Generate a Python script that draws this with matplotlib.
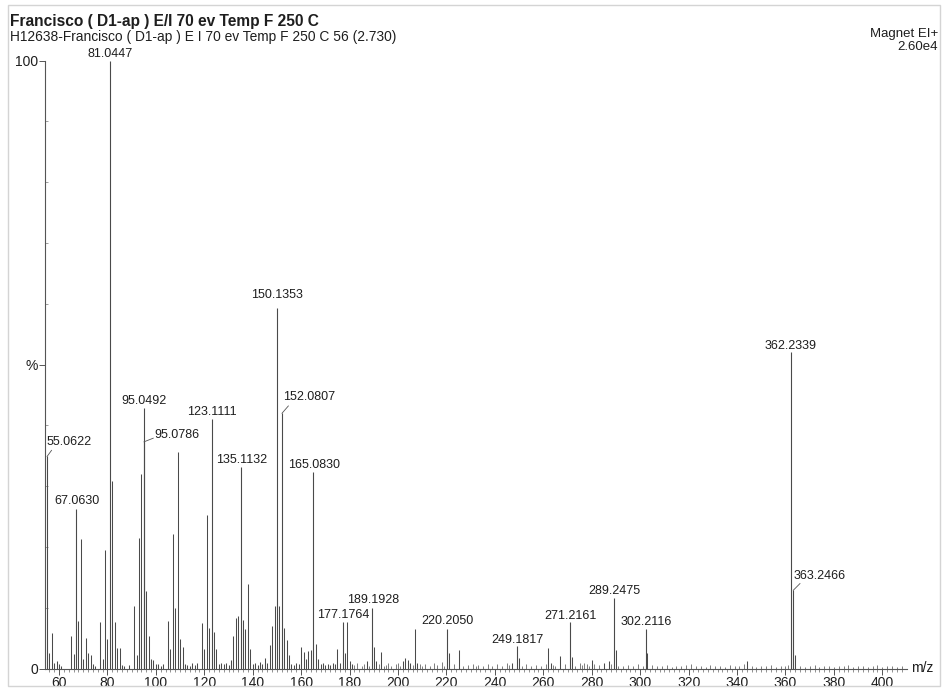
import matplotlib
matplotlib.use("Agg")
import matplotlib.pyplot as plt
from matplotlib.ticker import FixedLocator
from matplotlib.patches import Rectangle

plt.rcParams['font.family'] = ['Liberation Sans', 'DejaVu Sans']

# ---------------- data ----------------
# labelled peaks (m/z, relative intensity %)
label_mz = [55.0622, 67.0630, 81.0447, 95.0492, 95.0786, 123.1111, 135.1132,
            150.1353, 152.0807, 165.0830, 177.1764, 189.1928, 220.2050,
            249.1817, 271.2161, 289.2475, 302.2116, 362.2339, 363.2466]
label_int = [34.9, 26.3, 100.0, 42.9, 37.3, 41.1, 33.2,
             59.3, 42.0, 32.4, 7.6, 10.0, 6.6,
             3.7, 7.6, 11.6, 6.5, 52.1, 12.9]
label_text = ["55.0622", "67.0630", "81.0447", "95.0492", "95.0786", "123.1111",
              "135.1132", "150.1353", "152.0807", "165.0830", "177.1764",
              "189.1928", "220.2050", "249.1817", "271.2161", "289.2475",
              "302.2116", "362.2339", "363.2466"]

# other visible peaks
minor_mz = [56, 57, 58, 59, 60, 61, 65, 66, 68, 69,
            70, 71, 72, 73, 74, 75, 77, 78, 79, 80,
            82, 83, 84, 85, 86, 87, 89, 91, 92, 93,
            94, 96, 97, 98, 99, 100, 101, 102, 103, 105,
            106, 107, 108, 109, 110, 111, 112, 113, 114, 115,
            116, 117, 119, 120, 121, 122, 124, 125, 126, 127,
            128, 129, 130, 131, 132, 133, 134, 136, 137, 138,
            139, 140, 141, 142, 143, 144, 145, 146, 147, 148,
            149, 151, 153, 154, 155, 156, 157, 158, 159, 160,
            161, 162, 163, 164, 166, 167, 168, 169, 170, 171,
            172, 173, 174, 175, 176, 178, 179, 180, 181, 187,
            190, 191, 193, 202, 203, 204, 205, 207, 208, 221,
            225, 247, 250, 262, 263, 267, 272, 280, 285, 287,
            290, 303, 344, 364]
minor_int = [2.5, 5.8, 1.0, 1.2, 0.8, 0.5, 5.4, 2.4, 7.9, 21.3,
             1.6, 5.1, 2.5, 2.2, 0.8, 0.5, 7.6, 1.6, 19.5, 4.9,
             30.9, 7.7, 3.4, 3.4, 0.6, 0.5, 0.6, 10.3, 2.3, 21.5,
             32.0, 12.7, 5.4, 1.6, 1.5, 0.8, 0.7, 0.5, 0.8, 7.9,
             3.3, 22.2, 9.9, 35.7, 4.9, 3.6, 0.8, 0.6, 0.5, 1.0,
             0.6, 1.0, 7.5, 3.3, 25.3, 6.7, 6.0, 3.3, 0.8, 1.0,
             0.7, 1.0, 0.6, 1.5, 5.3, 8.4, 8.6, 8.0, 6.5, 14.0,
             3.3, 0.8, 1.0, 0.6, 1.1, 0.7, 1.8, 1.0, 3.9, 7.0,
             10.3, 10.3, 6.7, 4.8, 2.2, 0.8, 0.6, 1.0, 0.7, 3.6,
             2.8, 1.6, 2.9, 3.1, 4.1, 1.6, 0.7, 0.9, 0.6, 0.8,
             0.6, 1.0, 0.7, 3.2, 0.9, 2.6, 7.6, 1.2, 0.8, 1.3,
             3.5, 1.2, 2.8, 1.3, 1.8, 1.4, 1.0, 6.5, 1.0, 2.5,
             3.1, 1.0, 1.7, 3.4, 1.0, 2.1, 2.0, 1.5, 1.0, 1.2,
             3.1, 2.5, 1.3, 2.3]

# baseline noise peaks
noise_mz = [182, 183, 185, 186, 188, 192, 194, 195, 196, 197,
            199, 200, 201, 206, 209, 210, 211, 213, 215, 216,
            218, 219, 223, 227, 229, 231, 232, 233, 235, 237,
            239, 241, 243, 245, 246, 251, 253, 255, 257, 259,
            261, 264, 265, 269, 273, 275, 276, 277, 278, 279,
            281, 283, 288, 291, 293, 295, 297, 299, 301, 305,
            307, 309, 311, 313, 315, 317, 319, 321, 323, 325,
            327, 329, 331, 333, 335, 337, 339, 341, 343, 346,
            348, 350, 352, 354, 356, 358, 360, 361, 366, 368,
            370, 372, 374, 376, 378, 380, 382, 384, 386, 388,
            390, 392, 394, 396, 398, 400, 402, 404, 406, 408]
noise_int = [0.6, 0.9, 0.5, 0.7, 0.4, 0.8, 0.5, 0.6, 0.9, 0.4,
             0.7, 1.0, 0.5, 0.6, 0.8, 0.4, 0.7, 0.5, 0.9, 0.6,
             1.1, 0.5, 0.7, 0.4, 0.6, 0.8, 0.5, 0.6, 0.4, 0.7,
             0.5, 0.8, 0.4, 0.9, 0.6, 0.5, 0.7, 0.4, 0.6, 0.5,
             0.8, 0.6, 0.4, 0.7, 0.5, 0.9, 0.6, 1.0, 0.7, 0.5,
             0.8, 0.6, 0.7, 0.5, 0.4, 0.6, 0.5, 0.7, 0.4, 0.6,
             0.5, 0.4, 0.6, 0.3, 0.5, 0.4, 0.6, 0.8, 0.4, 0.5,
             0.3, 0.6, 0.4, 0.5, 0.3, 0.6, 0.4, 0.5, 0.7, 0.4,
             0.3, 0.5, 0.4, 0.6, 0.3, 0.5, 0.4, 0.6, 0.5, 0.3,
             0.4, 0.6, 0.3, 0.5, 0.4, 0.3, 0.5, 0.4, 0.6, 0.3,
             0.4, 0.5, 0.3, 0.4, 0.6, 0.3, 0.4, 0.5, 0.3, 0.4]

x_ticks = [60, 80, 100, 120, 140, 160, 180, 200, 220, 240, 260, 280,
           300, 320, 340, 360, 380, 400]
y_ticks = [0, 50, 100]
y_tick_labels = ["0", "%", "100"]

# label placement (styling): text x, text y (data units), horizontal align,
# leader end point (or None)
label_pos = [(54.9, 37.2, 'left', (56.9, 35.9)),
             (67.3, 27.5, 'center', None),
             (81.0, 101.1, 'center', None),
             (95.0, 44.0, 'center', None),
             (99.2, 38.4, 'left', (98.9, 37.9)),
             (123.05, 42.2, 'center', None),
             (135.3, 34.3, 'center', None),
             (150.1, 61.5, 'center', None),
             (152.4, 44.6, 'left', (154.7, 43.2)),
             (165.2, 33.5, 'center', None),
             (177.5, 8.9, 'center', None),
             (189.6, 11.3, 'center', None),
             (220.4, 7.8, 'center', None),
             (249.4, 4.8, 'center', None),
             (271.4, 8.7, 'center', None),
             (289.3, 12.7, 'center', None),
             (302.5, 7.7, 'center', None),
             (362.2, 53.0, 'center', None),
             (363.3, 15.3, 'left', (366.0, 14.0))]

# ---------------- figure ----------------
W, H = 943, 690
fig = plt.figure(figsize=(W / 100, H / 100), dpi=100)
fig.patch.set_facecolor('white')

ax_left, ax_right, ax_bot, ax_top = 45, 907, 668.7, 60.5
ax = fig.add_axes([ax_left / W, 1 - ax_bot / H, (ax_right - ax_left) / W,
                   (ax_bot - ax_top) / H])
ax.set_xlim(54.2, 410.2)
ax.set_ylim(0, 100)

line_col = '#4a4a4a'
text_col = '#1e1e1e'

ax.vlines(noise_mz, 0, noise_int, color='#666666', lw=0.6)
ax.vlines(minor_mz, 0, minor_int, color=line_col, lw=0.75)
ax.vlines(label_mz, 0, label_int, color=line_col, lw=0.8)

for mz, inten, txt, (tx, ty, ha, lead) in zip(label_mz, label_int, label_text, label_pos):
    ax.text(tx, ty, txt, ha=ha, va='center', fontsize=9, color=text_col,
            clip_on=False)
    if lead is not None:
        ax.plot([mz, lead[0]], [inten, lead[1]], color='#555555', lw=0.6,
                clip_on=False)

for s in ['top', 'right']:
    ax.spines[s].set_visible(False)
for s in ['left', 'bottom']:
    ax.spines[s].set_color('#555555')
    ax.spines[s].set_linewidth(0.8)

ax.set_xticks(x_ticks)
ax.set_xticklabels([str(v) for v in x_ticks])
ax.xaxis.set_minor_locator(FixedLocator([v for v in range(56, 410, 2)]))
ax.tick_params(axis='x', which='major', direction='out', length=4, width=0.7,
               color='#555555', labelsize=10, labelcolor=text_col, pad=1.5)
ax.tick_params(axis='x', which='minor', direction='out', length=2.2, width=0.5,
               color='#666666')

ax.set_yticks(y_ticks)
ax.set_yticklabels(y_tick_labels)
ax.yaxis.set_minor_locator(FixedLocator([10, 20, 30, 40, 60, 70, 80, 90]))
ax.tick_params(axis='y', which='major', direction='out', length=4, width=0.7,
               color='#555555', labelsize=10, labelcolor=text_col, pad=1)
ax.tick_params(axis='y', which='minor', direction='in', length=2, width=0.5,
               color='#777777')

fig.text(911.5 / W, 1 - 667.7 / H, "m/z", ha='left', va='center',
         fontsize=10, color=text_col)

fig.text(10 / W, 1 - 21.7 / H, "Francisco ( D1-ap ) E/I 70 ev Temp F 250 C",
         ha='left', va='center', fontsize=11.2, fontweight='bold', color=text_col)
fig.text(10 / W, 1 - 37.3 / H,
         "H12638-Francisco ( D1-ap ) E I 70 ev Temp F 250 C 56 (2.730)",
         ha='left', va='center', fontsize=9.9, color=text_col)
fig.text(938 / W, 1 - 34 / H, "Magnet EI+", ha='right', va='center',
         fontsize=9.5, color=text_col)
fig.text(938 / W, 1 - 47.5 / H, "2.60e4", ha='right', va='center',
         fontsize=9.5, color=text_col)

# page border
fig.patches.append(Rectangle((8 / W, 1 - 686 / H), (940 - 8) / W, (686 - 5) / H,
                             transform=fig.transFigure, fill=False,
                             edgecolor='#d4d4d4', lw=1))

fig.savefig('out.png', dpi=100)
